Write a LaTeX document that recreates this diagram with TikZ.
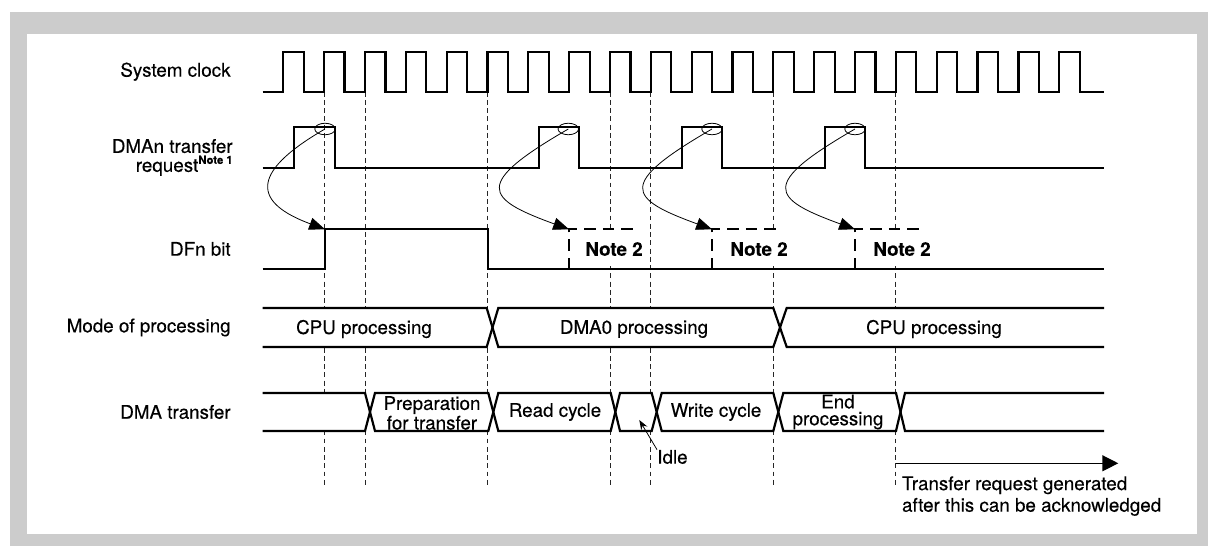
\documentclass[tikz,border=0pt]{standalone}
\usepackage{fontspec}
\setmainfont{TeX Gyre Heros}[FakeBold=0.25]
\usetikzlibrary{arrows.meta,shapes.geometric}

\begin{document}
\begin{tikzpicture}[
    x=0.02cm, y=-0.02cm,
    font=\fontsize{10.7}{12}\selectfont,
    lbl/.style={anchor=east, align=right, inner sep=0pt},
    wave/.style={line width=1.25pt, line join=miter},
    grid/.style={draw=black!85, line width=0.5pt, dash pattern=on 2.8pt off 1.9pt},
    opt/.style={line width=1.2pt, dash pattern=on 6.5pt off 4pt},
    req/.style={draw, ellipse, line width=0.45pt, inner sep=0pt,
                minimum width=0.41cm, minimum height=0.23cm},
    ack/.style={line width=0.45pt, -{Triangle[length=9pt,width=7pt]}},
    txt/.style={align=center, font=\fontsize{10.7}{9.6}\selectfont},
    note/.style={fill=white, font=\fontsize{10.7}{12}\selectfont\bfseries,
                 inner xsep=2pt, minimum height=0.7cm},
]
% frame
\fill[black!20] (10,12) rectangle (1208,546);
\fill[white] (27,34) rectangle (1197,534);
\useasboundingbox (0,0) rectangle (1208,546);

% signal names
\node[lbl] (sclk) at (231,71.7) {System clock};
\node[lbl, font=\fontsize{10.7}{10.8}\selectfont] (dreq) at (233,157.5)
    {DMAn transfer\\request\raisebox{0.8ex}{\fontsize{6.4}{7}\selectfont\bfseries Note 1}};
\node[lbl] (dfn) at (231,249) {DFn bit};
\node[lbl] (mode) at (231,327.5) {Mode of processing};
\node[lbl] (dma) at (231,412) {DMA transfer};

% timing grid
\foreach \k in {1,2,5,8,9,12,15}
    \draw[grid] ({283.3+40.84*\k},91.7) -- ++(0,395);
\fill[white] (262,309) rectangle (1105,346);
\fill[white] (262,394) rectangle (1105,430);

% system clock
\draw[wave] (262.7,91.7) \foreach \k in {0,...,19} {
    -- ({283.3+40.84*\k},91.7) -- ++(0,-40) -- ++(20.42,0) -- ++(0,40) } -- (1104,91.7);

% DMAn transfer request
\draw[wave] (262.7,167.7) \foreach \a/\b in {294/335,539.3/579,681.7/722.3,825/865} {
    -- (\a,167.7) -- (\a,127.3) -- (\b,127.3) -- (\b,167.7) } -- (1104,167.7);
\node[req] (e1) at (325,129) {};
\node[req] (e2) at (568.3,129) {};
\node[req] (e3) at (712,129) {};
\node[req] (e4) at (855,129) {};

% DFn bit
\draw[wave] (262.7,269.3) -- (325,269.3) -- (325,229.3) -- (488.3,229.3)
    -- (488.3,269.3) -- (1104,269.3);
\node[note] (n1) at (614,249) {Note 2};
\node[note] (n2) at (759,249) {Note 2};
\node[note] (n3) at (902,249) {Note 2};
\foreach \a in {569,712,855}
    \draw[opt] (\a,269.3) -- (\a,229.3) -- ++(68,0);
\coordinate (d1) at (325,229.3);
\coordinate (d2) at (569,229.3);
\coordinate (d3) at (712,229.3);
\coordinate (d4) at (855,229.3);

\draw[ack] (e1.center) .. controls +(-78,45) and +(-70,-26) .. (d1);
\foreach \i in {2,3,4}
    \draw[ack] (e\i.center) .. controls +(-95,55) and +(-85,-31) .. (d\i);

% mode of processing
\draw[wave] (262.7,308) -- (486.7,308) -- (498.3,347) -- (773.3,347) -- (786.7,308) -- (1104,308);
\draw[wave] (262.7,347) -- (486.7,347) -- (498.3,308) -- (773.3,308) -- (786.7,347) -- (1104,347);
\node (cpu1) at (364,329) {CPU processing};
\node (dma0) at (634,329) {DMA0 processing};
\node (cpu2) at (934,329) {CPU processing};

% DMA transfer
\draw[wave] (262.7,393) -- (365,393) -- (375,431) -- (488.3,431) -- (498.3,393) -- (610.7,393)
    -- (620,431) -- (651.7,431) -- (661.7,393) -- (773.3,393) -- (783.3,431) -- (896,431)
    -- (905,393) -- (1104,393);
\draw[wave] (262.7,431) -- (365,431) -- (375,393) -- (488.3,393) -- (498.3,431) -- (610.7,431)
    -- (620,393) -- (651.7,393) -- (661.7,431) -- (773.3,431) -- (783.3,393) -- (896,393)
    -- (905,431) -- (1104,431);
\node[txt] (prep) at (432,413) {Preparation\\for transfer};
\node (read) at (555,412) {Read cycle};
\node (write) at (716,412) {Write cycle};
\node[txt] (endp) at (838,412) {End\\processing};

% idle marker
\node[anchor=west, inner sep=0pt] (idle) at (657,457) {Idle};
\coordinate (idlept) at (639.3,420);
\draw[line width=0.45pt, -{Stealth[length=5.5pt,width=4pt]}] (idle.north west) -- (idlept);

% acknowledge limit
\coordinate (acks) at (896,463.3);
\coordinate (acke) at (1118.3,463.3);
\draw[line width=0.7pt, -{Triangle[length=9pt,width=9pt]}] (acks) -- (acke);
\node[anchor=north west, align=left, inner sep=0pt, font=\fontsize{10.7}{12.3}\selectfont]
    (ackl) at (901.7,476) {Transfer request generated\\after this can be acknowledged};
\end{tikzpicture}
\end{document}
